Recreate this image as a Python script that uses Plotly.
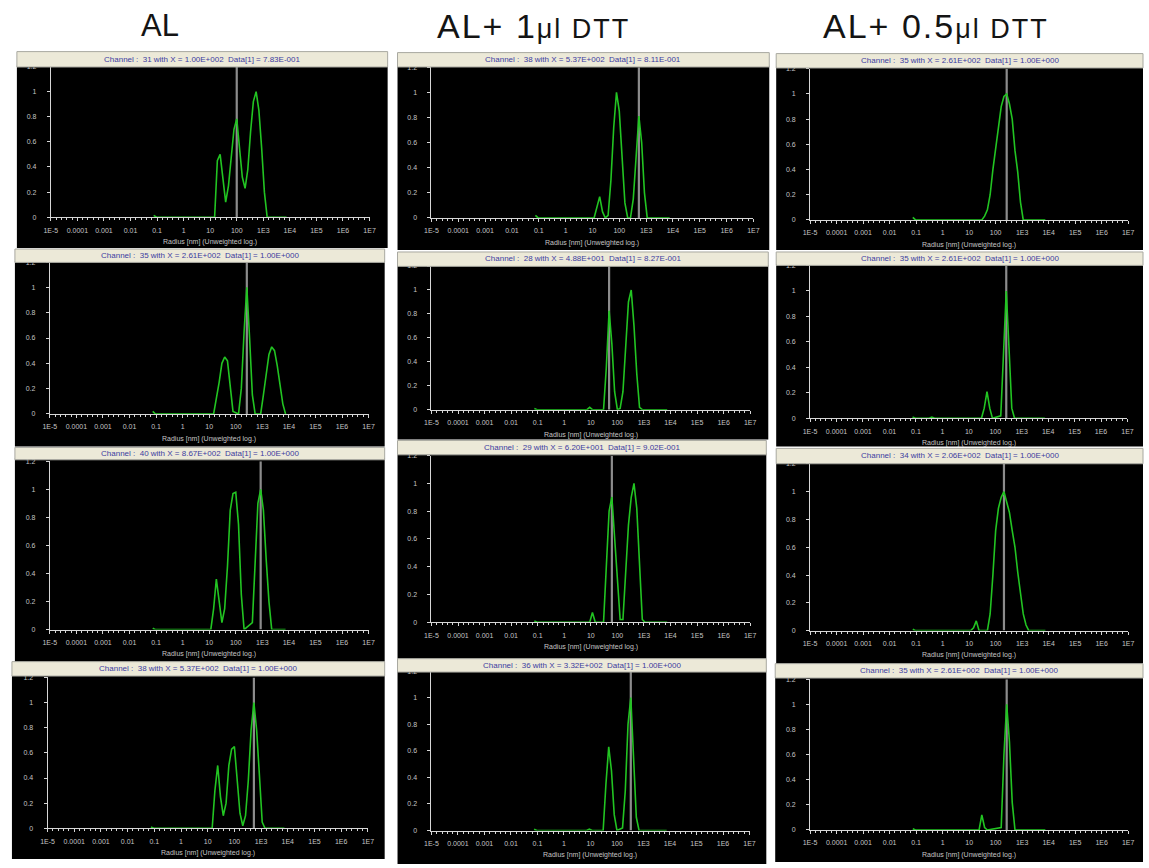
import plotly.graph_objects as go

# Radius of each histogram channel (nm), channels 1..49
CHANNEL_RADIUS_NM = [
    0.0748, 0.0951, 0.121, 0.154, 0.195, 0.248, 0.316, 0.401, 0.510, 0.648,
    0.824, 1.05, 1.33, 1.69, 2.15, 2.74, 3.48, 4.42, 5.62, 7.14,
    9.08, 11.5, 14.7, 18.6, 23.7, 30.1, 38.3, 48.8, 62.0, 78.7,
    100.0, 127.0, 162.0, 206.0, 261.0, 332.0, 422.0, 537.0, 682.0, 867.0,
    1100.0, 1400.0, 1780.0, 2260.0, 2880.0, 3660.0, 4650.0, 5910.0, 7510.0,
]

RADIUS_TICK_VALUES = [1e-5, 1e-4, 1e-3, 1e-2, 0.1, 1, 10, 100, 1e3, 1e4, 1e5, 1e6, 1e7]
RADIUS_TICK_TEXT = ["1E-5", "0.0001", "0.001", "0.01", "0.1", "1", "10", "100",
                    "1E3", "1E4", "1E5", "1E6", "1E7"]

COLUMN_TITLES = ["AL", "AL+ 1", "AL+ 0.5"]
COLUMN_TITLE_UNITS = ["", "μl DTT", "μl DTT"]
X_AXIS_TITLE = "Radius [nm] (Unweighted log.)"

# ---- AL ----
AL_1_CH = [1, 2, 23, 24, 25, 26, 27, 28, 29, 30, 31, 32, 33, 34, 35, 36, 37, 38, 39, 40, 41, 42, 49]
AL_1_VAL = [0.015, 0, 0, 0.45, 0.50, 0.30, 0.12, 0.25, 0.50, 0.70, 0.783, 0.55, 0.32, 0.23,
            0.38, 0.68, 0.92, 1.0, 0.85, 0.55, 0.20, 0, 0]
AL_1_CURSOR = 31

AL_2_CH = [1, 2, 23, 24, 25, 26, 27, 28, 29, 30, 32, 33, 34, 35, 36, 37, 38, 40, 41, 42,
           43, 44, 45, 46, 47, 48, 49]
AL_2_VAL = [0.02, 0, 0, 0.12, 0.25, 0.40, 0.45, 0.42, 0.20, 0.02, 0, 0.20, 0.65, 1.0, 0.60,
            0.15, 0, 0, 0.15, 0.33, 0.47, 0.53, 0.50, 0.38, 0.22, 0.08, 0]
AL_2_CURSOR = 35

AL_3_CH = [1, 2, 22, 23, 24, 25, 26, 27, 28, 29, 30, 31, 32, 33, 34, 37, 38, 39, 40, 41,
           42, 43, 44, 49]
AL_3_VAL = [0.01, 0, 0, 0.15, 0.36, 0.18, 0.05, 0.15, 0.45, 0.85, 0.97, 0.98, 0.75, 0.25,
            0, 0.05, 0.50, 0.90, 1.0, 0.85, 0.50, 0.20, 0, 0]
AL_3_CURSOR = 40

AL_4_CH = [1, 2, 23, 24, 25, 26, 27, 28, 29, 30, 31, 32, 33, 34, 35, 36, 37, 38, 39, 40,
           41, 42, 49]
AL_4_VAL = [0.01, 0, 0, 0.30, 0.50, 0.25, 0.10, 0.20, 0.50, 0.63, 0.65, 0.38, 0.12, 0.02,
            0.10, 0.38, 0.78, 1.0, 0.78, 0.42, 0.05, 0, 0]
AL_4_CURSOR = 38

# ---- AL + 1 ul DTT ----
DTT1_1_CH = [1, 2, 22, 23, 24, 25, 26, 27, 28, 29, 30, 31, 32, 33, 34, 35, 36, 37, 38, 39,
             40, 41, 49]
DTT1_1_VAL = [0.02, 0, 0, 0.08, 0.17, 0.05, 0, 0.02, 0.30, 0.72, 1.0, 0.85, 0.45, 0.12, 0,
              0, 0.15, 0.50, 0.811, 0.60, 0.20, 0, 0]
DTT1_1_CURSOR = 38

DTT1_2_CH = [1, 2, 20, 21, 22, 26, 27, 28, 29, 30, 31, 32, 33, 34, 35, 36, 37, 38, 39, 40, 49]
DTT1_2_VAL = [0.01, 0, 0, 0.02, 0, 0, 0.35, 0.827, 0.55, 0.15, 0, 0.01, 0.15, 0.50, 0.90,
              1.0, 0.70, 0.30, 0.02, 0, 0]
DTT1_2_CURSOR = 28

DTT1_3_CH = [1, 2, 21, 22, 23, 26, 27, 28, 29, 30, 31, 32, 33, 34, 35, 36, 37, 38, 39, 40,
             41, 49]
DTT1_3_VAL = [0.01, 0, 0, 0.07, 0, 0, 0.40, 0.80, 0.902, 0.60, 0.25, 0.02, 0.02, 0.38, 0.70,
              0.90, 1.0, 0.82, 0.45, 0.02, 0, 0]
DTT1_3_CURSOR = 29

DTT1_4_CH = [1, 2, 20, 21, 22, 26, 27, 28, 29, 30, 31, 33, 34, 35, 36, 37, 38, 39, 49]
DTT1_4_VAL = [0.01, 0, 0, 0.01, 0, 0, 0.35, 0.63, 0.45, 0.12, 0, 0.02, 0.30, 0.80, 1.0,
              0.60, 0.10, 0, 0]
DTT1_4_CURSOR = 36

# ---- AL + 0.5 ul DTT ----
DTT05_1_CH = [1, 2, 26, 27, 28, 29, 30, 31, 32, 33, 34, 35, 36, 37, 38, 39, 40, 41, 49]
DTT05_1_VAL = [0.02, 0, 0, 0.03, 0.08, 0.20, 0.40, 0.58, 0.75, 0.90, 0.98, 1.0, 0.92, 0.80,
               0.55, 0.38, 0.14, 0, 0]
DTT05_1_CURSOR = 35

DTT05_2_CH = [1, 2, 7, 8, 9, 26, 27, 28, 29, 30, 33, 34, 35, 36, 37, 38, 49]
DTT05_2_VAL = [0.01, 0, 0, 0.01, 0, 0, 0.08, 0.21, 0.08, 0, 0.02, 0.50, 1.0, 0.55, 0.08, 0, 0]
DTT05_2_CURSOR = 35

DTT05_3_CH = [1, 2, 22, 23, 24, 25, 28, 29, 30, 31, 32, 33, 34, 35, 36, 37, 38, 39, 40, 41,
              42, 43, 49]
DTT05_3_VAL = [0.01, 0, 0, 0.02, 0.07, 0, 0, 0.12, 0.40, 0.72, 0.88, 0.96, 1.0, 0.92, 0.85,
               0.72, 0.60, 0.42, 0.28, 0.12, 0.04, 0, 0]
DTT05_3_CURSOR = 34

DTT05_4_CH = [1, 2, 25, 26, 27, 28, 33, 34, 35, 36, 37, 38, 49]
DTT05_4_VAL = [0.01, 0, 0, 0.12, 0.02, 0, 0.02, 0.60, 1.0, 0.70, 0.22, 0, 0]
DTT05_4_CURSOR = 35

# row-major order: (channels, intensities, cursor channel)
PANELS = [
    (AL_1_CH, AL_1_VAL, AL_1_CURSOR), (DTT1_1_CH, DTT1_1_VAL, DTT1_1_CURSOR), (DTT05_1_CH, DTT05_1_VAL, DTT05_1_CURSOR),
    (AL_2_CH, AL_2_VAL, AL_2_CURSOR), (DTT1_2_CH, DTT1_2_VAL, DTT1_2_CURSOR), (DTT05_2_CH, DTT05_2_VAL, DTT05_2_CURSOR),
    (AL_3_CH, AL_3_VAL, AL_3_CURSOR), (DTT1_3_CH, DTT1_3_VAL, DTT1_3_CURSOR), (DTT05_3_CH, DTT05_3_VAL, DTT05_3_CURSOR),
    (AL_4_CH, AL_4_VAL, AL_4_CURSOR), (DTT1_4_CH, DTT1_4_VAL, DTT1_4_CURSOR), (DTT05_4_CH, DTT05_4_VAL, DTT05_4_CURSOR),
]

# ---- page geometry (pixels) ----
W, H = 1149, 868
# box_x0, box_x1, header_y0, header_y1, box_y1, axis_x0, axis_x1, y_of_zero, y_of_one
GEOMETRY = [
    (10, 385, 48, 62, 246, 44.3, 366.7, 215.0, 88.3),
    (395, 771, 49, 62, 248, 429.3, 755.0, 215.7, 89.0),
    (778, 1149, 50, 63, 248, 812.3, 1134.0, 217.7, 90.7),
    (8, 382, 247, 259, 446, 43.3, 365.7, 413.3, 285.7),
    (395, 770, 250, 263, 439, 429.3, 751.7, 409.0, 288.3),
    (778, 1149, 250, 262, 446, 812.3, 1133.3, 417.7, 289.3),
    (8, 382, 447, 458, 663, 43.3, 365.7, 630.7, 489.3),
    (395, 768, 440, 453, 660, 429.3, 751.7, 623.3, 483.3),
    (778, 1149, 448, 462, 665, 812.3, 1134.0, 631.7, 491.7),
    (5, 382, 663, 676, 862, 41.0, 365.0, 831.0, 704.3),
    (395, 768, 660, 672, 867, 429.3, 751.0, 833.3, 699.3),
    (777, 1149, 665, 678, 865, 812.3, 1134.0, 832.7, 706.0),
]
# column title: centre x, main font size, unit font size, letter spacing
TITLE_STYLE = [(155, 31, 0, 0), (533, 34, 27, 2), (940, 34, 27, 2)]
Y_MAX = 1.2

AXIS_COLOR = "#d6d6d6"
LABEL_COLOR = "#c4c4c4"
CURVE_COLOR = "#22c422"
CURSOR_COLOR = "#8c8c8c"
HEADER_FILL = "#ece9d8"
HEADER_TEXT = "#3c3ca0"
TICK_FONT = dict(family="Liberation Sans, Arial, sans-serif", size=7, color=LABEL_COLOR)


def px(x):
    return x / W


def py(y):
    return 1 - y / H


def sci(v):
    mant, exp = f"{v:.2E}".split("E")
    return f"{mant}E{int(exp):+04d}"


fig = go.Figure()
axes = {}
shapes = []
annotations = []

for i, ((channels, values, cursor), geom) in enumerate(zip(PANELS, GEOMETRY)):
    bx0, bx1, hy0, hy1, by1, ax0, ax1, y_zero, y_one = geom
    y_top = y_zero - Y_MAX * (y_zero - y_one)
    k = "" if i == 0 else str(i + 1)

    radius = [CHANNEL_RADIUS_NM[c - 1] for c in channels]
    cursor_r = CHANNEL_RADIUS_NM[cursor - 1]
    cursor_v = values[channels.index(cursor)]

    # cursor marker
    fig.add_trace(go.Scatter(
        x=[cursor_r, cursor_r], y=[0, Y_MAX], mode="lines",
        line=dict(color=CURSOR_COLOR, width=2.2),
        xaxis="x" + k, yaxis="y" + k, hoverinfo="skip", showlegend=False,
    ))
    # size distribution
    fig.add_trace(go.Scatter(
        x=radius, y=values, mode="lines",
        line=dict(color=CURVE_COLOR, width=1.6),
        xaxis="x" + k, yaxis="y" + k, showlegend=False,
    ))

    axes["xaxis" + k] = dict(
        type="log", domain=[px(ax0), px(ax1)], range=[-5, 7], anchor="y" + k,
        tickmode="array", tickvals=RADIUS_TICK_VALUES, ticktext=RADIUS_TICK_TEXT,
        showline=True, linecolor=AXIS_COLOR, linewidth=1,
        ticks="outside", ticklen=3, tickcolor=AXIS_COLOR, tickwidth=1,
        ticklabelstandoff=3, tickfont=TICK_FONT,
        minor=dict(ticks="outside", ticklen=2, tickcolor=AXIS_COLOR, dtick=0.2, tick0=0, showgrid=False),
        showgrid=False, zeroline=False, fixedrange=True,
    )
    axes["yaxis" + k] = dict(
        domain=[py(y_zero), py(y_top)], range=[0, Y_MAX], anchor="x" + k,
        tickmode="linear", tick0=0, dtick=0.2,
        showline=True, linecolor=AXIS_COLOR, linewidth=1,
        ticks="outside", ticklen=3, tickcolor=AXIS_COLOR,
        ticklabelstandoff=9, tickfont=TICK_FONT,
        showgrid=False, zeroline=False, fixedrange=True,
    )

    # black panel body
    shapes.append(dict(type="rect", xref="paper", yref="paper", layer="below",
                       x0=px(bx0), x1=px(bx1), y0=py(by1), y1=py(hy1),
                       fillcolor="black", line=dict(width=0)))
    # header bar
    shapes.append(dict(type="rect", xref="paper", yref="paper", layer="above",
                       x0=px(bx0), x1=px(bx1), y0=py(hy1 + 1.5), y1=py(hy0),
                       fillcolor=HEADER_FILL, line=dict(color="#a8a8a0", width=1)))
    annotations.append(dict(
        xref="paper", yref="paper", x=px((bx0 + bx1) / 2), y=py((hy0 + hy1) / 2 + 0.5),
        text=f"Channel :  {cursor} with X = {sci(cursor_r)}  Data[1] = {sci(cursor_v)}",
        showarrow=False, xanchor="center", yanchor="middle",
        font=dict(family="Liberation Sans Narrow, Arial Narrow, Liberation Sans, sans-serif",
                  size=8, color=HEADER_TEXT),
    ))
    annotations.append(dict(
        xref="paper", yref="paper", x=px((ax0 + ax1) / 2), y=py(y_zero + 25),
        text=X_AXIS_TITLE, showarrow=False, xanchor="center", yanchor="middle",
        font=dict(family="Liberation Sans, Arial, sans-serif", size=7, color=LABEL_COLOR),
    ))

for (cx, size, unit_size, spacing), title, unit in zip(TITLE_STYLE, COLUMN_TITLES, COLUMN_TITLE_UNITS):
    if unit:
        text = (f"<span style='letter-spacing:{spacing}px'>{title}"
                f"<span style='font-size:{unit_size}px'>{unit}</span></span>")
    else:
        text = title
    annotations.append(dict(
        xref="paper", yref="paper", x=px(cx), y=py(22), text=text,
        showarrow=False, xanchor="center", yanchor="middle",
        font=dict(family="Liberation Sans, Arial, sans-serif", size=size, color="#141414"),
    ))

fig.update_layout(
    width=W, height=H, margin=dict(l=0, r=0, t=0, b=0),
    paper_bgcolor="white", plot_bgcolor="black",
    shapes=shapes, annotations=annotations, showlegend=False,
    **axes,
)

fig.write_html("out.html")
